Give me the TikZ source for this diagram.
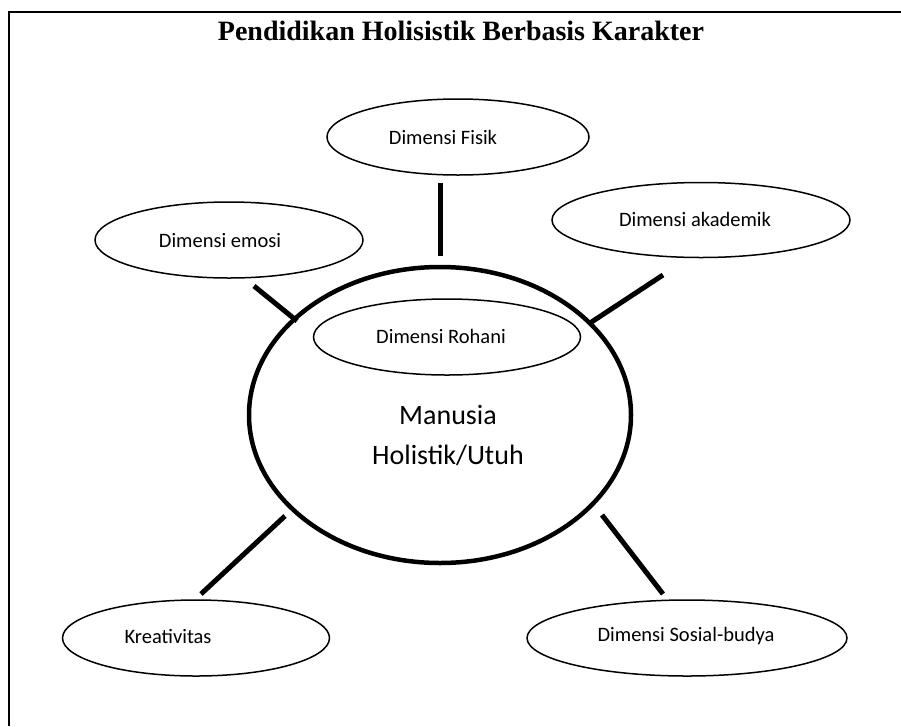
\documentclass[tikz,border=0pt]{standalone}
\usepackage{fontspec}
\setmainfont{Carlito}
\newfontfamily\titlefont{Liberation Serif}
\usetikzlibrary{shapes.geometric}
\begin{document}
\begin{tikzpicture}[x=1pt,y=-1pt,
  dim/.style={draw, ellipse, line width=1.5pt, inner sep=0pt},
  lbl/.style={font=\fontsize{20.5}{24}\selectfont, inner sep=0pt},
  conn/.style={line width=5pt}]
\useasboundingbox (0,0) rectangle (901,726);
\draw[line width=1.7pt] (9,726) -- (9,12) -- (901,12);
\node[font=\titlefont\bfseries\fontsize{28}{32}\selectfont, inner sep=0pt] (title) at (461,31) {Pendidikan Holisistik Berbasis Karakter};
% main ellipse
\node[draw, ellipse, line width=4.5pt, minimum width=382pt, minimum height=296pt, inner sep=0pt] (main) at (440,415) {};
\node[font=\fontsize{28}{34}\selectfont, inner sep=0pt] (t1) at (448,415) {Manusia};
\node[font=\fontsize{28}{34}\selectfont, inner sep=0pt] (t2) at (448,455) {Holistik/Utuh};
% dimension ellipses
\node[dim, minimum width=262pt, minimum height=76pt] (fisik) at (458,137) {};
\node[lbl] (fisikt) at (443,137) {Dimensi Fisik};
\node[dim, minimum width=268pt, minimum height=76pt] (emosi) at (229,240) {};
\node[lbl] (emosit) at (220,241) {Dimensi emosi};
\node[dim, minimum width=298pt, minimum height=75pt] (akad) at (701,220) {};
\node[lbl] (akadt) at (695,219) {Dimensi akademik};
\node[dim, minimum width=267pt, minimum height=76pt] (rohani) at (447,337) {};
\node[lbl] (rohanit) at (441,336) {Dimensi Rohani};
\node[dim, minimum width=267pt, minimum height=76pt] (kreat) at (196,638) {};
\node[lbl] (kreatt) at (168,636) {Kreativitas};
\node[dim, minimum width=320pt, minimum height=76pt] (sosial) at (687,638) {};
\node[lbl] (sosialt) at (686,636) {Dimensi Sosial-budya};
% connectors
\coordinate (cf1) at (440,183); \coordinate (cf2) at (440,256);
\coordinate (ce1) at (254,286); \coordinate (ce2) at (297,321);
\coordinate (ca1) at (663,275); \coordinate (ca2) at (590,323);
\coordinate (ck1) at (285,516); \coordinate (ck2) at (201,594);
\coordinate (cs1) at (602,515); \coordinate (cs2) at (663,594);
\draw[conn] (cf1) -- (cf2);
\draw[conn] (ce1) -- (ce2);
\draw[conn] (ca1) -- (ca2);
\draw[conn] (ck1) -- (ck2);
\draw[conn] (cs1) -- (cs2);
\end{tikzpicture}
\end{document}
